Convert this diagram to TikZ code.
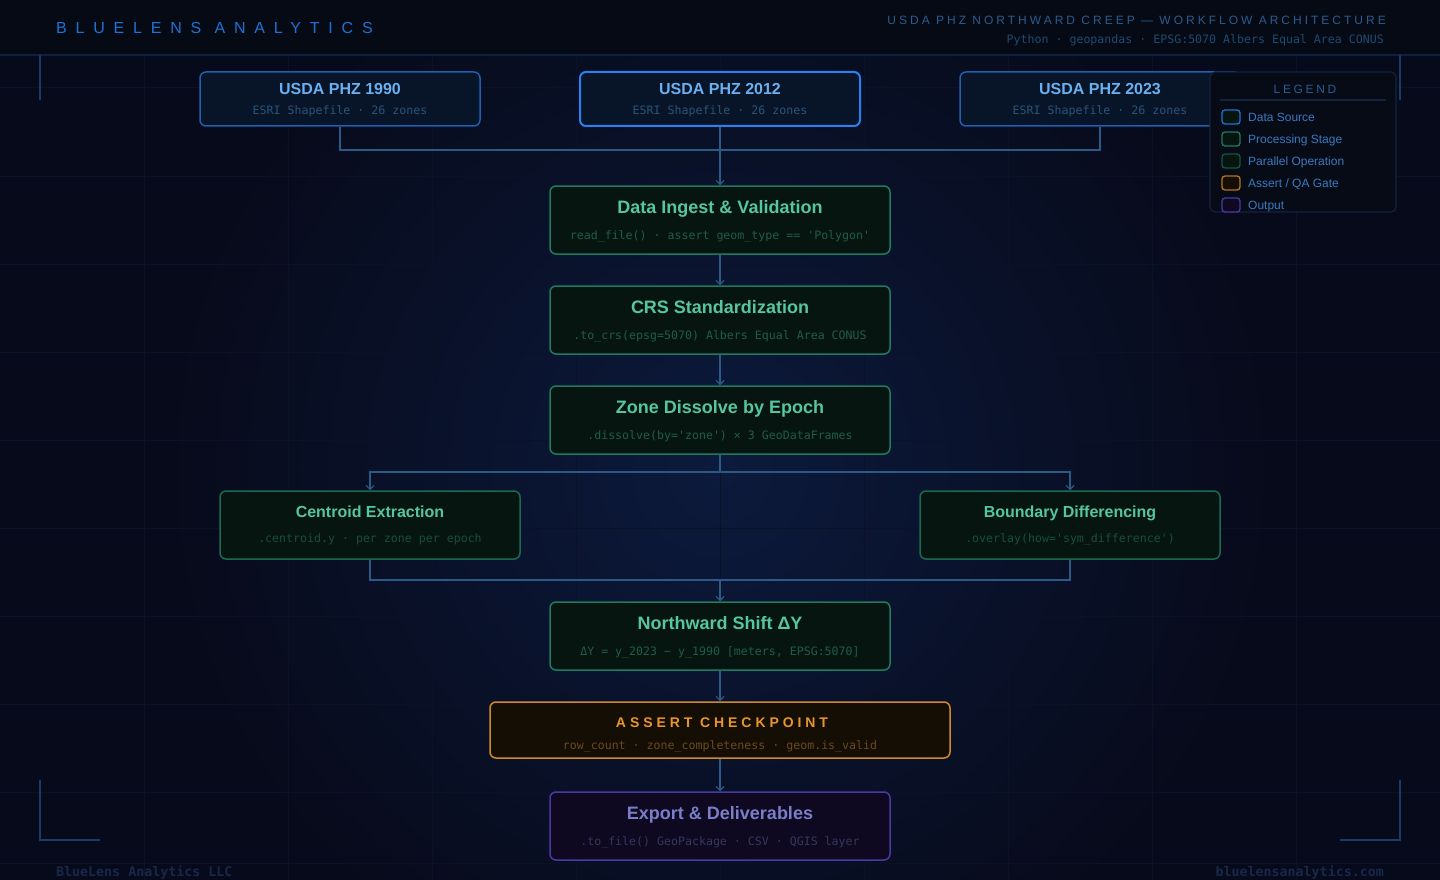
\documentclass[tikz,border=0pt]{standalone}
\usepackage{fontspec}
\setmainfont{Liberation Sans}
\newfontfamily\monof{DejaVu Sans Mono}
\newfontfamily\spacedA[LetterSpace=55]{Liberation Sans}
\newfontfamily\spacedB[LetterSpace=25]{Liberation Sans}
\newfontfamily\spacedC[LetterSpace=28]{Liberation Sans}
\newfontfamily\spacedD[LetterSpace=22]{Liberation Sans}
\usetikzlibrary{arrows.meta}
\newcommand\sq{\textquotesingle}
\definecolor{bgc}{HTML}{070A1A}
\definecolor{glow}{HTML}{0C1A3C}
\definecolor{gridc}{HTML}{0B1228}
\definecolor{headc}{HTML}{050A14}
\definecolor{headline}{HTML}{0F2242}
\definecolor{brandc}{HTML}{1F72D4}
\definecolor{hdrc}{HTML}{2A5C8E}
\definecolor{hdrsub}{HTML}{1F4A72}
\definecolor{cornerc}{HTML}{1C3A6A}
\definecolor{footc}{HTML}{18284A}
\definecolor{srcfill}{HTML}{081428}
\definecolor{srcdraw}{HTML}{1F5FB0}
\definecolor{srcdrawB}{HTML}{2A80F0}
\definecolor{srctitle}{HTML}{6AB0F0}
\definecolor{srcsub}{HTML}{2A5578}
\definecolor{procfill}{HTML}{061510}
\definecolor{procdraw}{HTML}{1F7A60}
\definecolor{pardraw}{HTML}{1A6A52}
\definecolor{proctitle}{HTML}{56C6A0}
\definecolor{procsub}{HTML}{205C48}
\definecolor{parsub}{HTML}{1B4C3C}
\definecolor{asfill}{HTML}{150E04}
\definecolor{asdraw}{HTML}{D08A2A}
\definecolor{astitle}{HTML}{E8962A}
\definecolor{assub}{HTML}{6A4A1E}
\definecolor{outfill}{HTML}{0E0820}
\definecolor{outdraw}{HTML}{4A3AA0}
\definecolor{outtitle}{HTML}{7A7EC8}
\definecolor{outsub}{HTML}{35385C}
\definecolor{conn}{HTML}{2A5A85}
\definecolor{legfill}{HTML}{070B16}
\definecolor{legdraw}{HTML}{13233F}
\definecolor{legtext}{HTML}{3A7AC0}
\definecolor{legtitle}{HTML}{2A5C8E}
\begin{document}
\begin{tikzpicture}[x=1pt,y=-1pt,
  box/.style={rectangle, rounded corners=6pt, line width=1.5pt, inner sep=0pt},
  srcbox/.style={box, fill=srcfill, draw=srcdraw, minimum width=280pt, minimum height=54pt},
  procbox/.style={box, fill=procfill, draw=procdraw, minimum width=340pt, minimum height=68pt},
  parbox/.style={box, fill=procfill, draw=pardraw, minimum width=300pt, minimum height=68pt},
  asbox/.style={box, fill=asfill, draw=asdraw, minimum width=460pt, minimum height=56pt},
  outbox/.style={box, fill=outfill, draw=outdraw, minimum width=340pt, minimum height=68pt},
  srctitle/.style={text=srctitle, font=\fontsize{16}{18}\selectfont\bfseries, inner sep=0pt, anchor=base},
  srcsub/.style={text=srcsub, font=\monof\fontsize{11.6}{13}\selectfont, inner sep=0pt, anchor=base},
  ptitle/.style={text=proctitle, font=\fontsize{18}{20}\selectfont\bfseries, inner sep=0pt, anchor=base},
  partitle/.style={text=proctitle, font=\fontsize{16}{18}\selectfont\bfseries, inner sep=0pt, anchor=base},
  psub/.style={text=procsub, font=\monof\fontsize{11.6}{13}\selectfont, inner sep=0pt, anchor=base},
  parsub/.style={text=parsub, font=\monof\fontsize{11.6}{13}\selectfont, inner sep=0pt, anchor=base},
  conline/.style={draw=conn, line width=1.5pt},
  arr/.style={conline, -{Straight Barb[length=4pt, width=8pt, line width=1.2pt]}},
  legsq/.style={rectangle, rounded corners=3pt, line width=1.3pt, minimum width=18pt, minimum height=14pt, inner sep=0pt},
  legtxt/.style={text=legtext, font=\fontsize{12}{14}\selectfont, anchor=base west, inner sep=0pt},
  corner/.style={draw=cornerc, line width=2pt}
]
\useasboundingbox (0,0) rectangle (1440,880);
% background
\fill[bgc] (0,0) rectangle (1440,880);
\shade[inner color=glow, outer color=bgc] (720,470) circle (560);
\foreach \x in {144,288,...,1296} \draw[gridc, line width=1pt] (\x,55) -- (\x,880);
\foreach \y in {88,176,...,792} \draw[gridc, line width=1pt] (0,\y) -- (1440,\y);
\draw[gridc, line width=1pt] (0,863) -- (1440,863);
% header
\fill[headc] (0,0) rectangle (1440,55);
\draw[headline, line width=1.5pt] (0,55) -- (1440,55);
\node[anchor=base west, text=brandc, font=\spacedA\fontsize{16}{18}\selectfont, inner sep=0pt] (brand) at (56,34) {BLUELENS ANALYTICS};
\node[anchor=base east, text=hdrc, font=\spacedB\fontsize{12}{14}\selectfont, inner sep=0pt] (hdr) at (1386,24.5) {USDA PHZ NORTHWARD CREEP — WORKFLOW ARCHITECTURE};
\node[anchor=base east, text=hdrsub, font=\monof\fontsize{11.6}{13}\selectfont, inner sep=0pt] (hdrs) at (1384,44) {Python · geopandas · EPSG:5070 Albers Equal Area CONUS};
% corners
\draw[corner] (40,55) -- (40,100);
\draw[corner] (1400,55) -- (1400,100);
\draw[corner] (40,780) -- (40,840) -- (100,840);
\draw[corner] (1400,780) -- (1400,840) -- (1340,840);
% footer
\node[anchor=base west, text=footc, font=\monof\fontsize{13.3}{14}\selectfont\bfseries, inner sep=0pt] (foot1) at (56,876.5) {BlueLens Analytics LLC};
\node[anchor=base east, text=footc, font=\monof\fontsize{13.3}{14}\selectfont\bfseries, inner sep=0pt] (foot2) at (1384,876.5) {bluelensanalytics.com};
% coordinates
\coordinate (join) at (720,150);
\coordinate (split) at (720,472);
\coordinate (merge) at (720,580);
% sources
\node[srcbox] (s1990) at (340,99) {};
\node[srctitle] (s1990t) at (340,94.8) {USDA PHZ 1990};
\node[srcsub] (s1990s) at (340,115) {ESRI Shapefile · 26 zones};
\node[srcbox, draw=srcdrawB, line width=2pt] (s2012) at (720,99) {};
\node[srctitle] (s2012t) at (720,94.8) {USDA PHZ 2012};
\node[srcsub] (s2012s) at (720,115) {ESRI Shapefile · 26 zones};
\node[srcbox] (s2023) at (1100,99) {};
\node[srctitle] (s2023t) at (1100,94.8) {USDA PHZ 2023};
\node[srcsub] (s2023s) at (1100,115) {ESRI Shapefile · 26 zones};
% processing
\node[procbox] (ingest) at (720,220) {};
\node[ptitle] (ingestt) at (720,213.5) {Data Ingest \& Validation};
\node[psub] (ingests) at (720,239) {read\_file() · assert geom\_type == \sq Polygon\sq};
\node[procbox] (crs) at (720,320) {};
\node[ptitle] (crst) at (720,313.5) {CRS Standardization};
\node[psub] (crss) at (720,339) {.to\_crs(epsg=5070) Albers Equal Area CONUS};
\node[procbox] (diss) at (720,420) {};
\node[ptitle] (disst) at (720,413.5) {Zone Dissolve by Epoch};
\node[psub] (disss) at (720,439) {.dissolve(by=\sq zone\sq) × 3 GeoDataFrames};
\node[parbox] (cent) at (370,525) {};
\node[partitle] (centt) at (370,517.8) {Centroid Extraction};
\node[parsub] (cents) at (370,542) {.centroid.y · per zone per epoch};
\node[parbox] (bound) at (1070,525) {};
\node[partitle] (boundt) at (1070,517.8) {Boundary Differencing};
\node[parsub] (bounds) at (1070,542) {.overlay(how=\sq sym\_difference\sq)};
\node[procbox] (north) at (720,636) {};
\node[ptitle] (northt) at (720,629.5) {Northward Shift ΔY};
\node[psub] (norths) at (720,655) {ΔY = y\_2023 − y\_1990 [meters, EPSG:5070]};
\node[asbox] (assert) at (720,730) {};
\node[text=astitle, font=\spacedC\fontsize{14}{16}\selectfont\bfseries, inner sep=0pt, anchor=base] (assertt) at (722,727) {ASSERT CHECKPOINT};
\node[text=assub, font=\monof\fontsize{11.6}{13}\selectfont, inner sep=0pt, anchor=base] (asserts) at (720,749) {row\_count · zone\_completeness · geom.is\_valid};
\node[outbox] (export) at (720,826) {};
\node[ptitle, text=outtitle] (exportt) at (720,819.5) {Export \& Deliverables};
\node[psub, text=outsub] (exports) at (720,845) {.to\_file() GeoPackage · CSV · QGIS layer};
% connectors
\draw[conline] (s1990.south) |- (join);
\draw[conline] (s2023.south) |- (join);
\draw[arr] (s2012.south) -- (ingest.north);
\draw[arr] (ingest.south) -- (crs.north);
\draw[arr] (crs.south) -- (diss.north);
\draw[conline] (diss.south) -- (split);
\draw[arr] (split) -| (cent.north);
\draw[arr] (split) -| (bound.north);
\draw[conline] (cent.south) |- (merge);
\draw[conline] (bound.south) |- (merge);
\draw[arr] (merge) -- (north.north);
\draw[arr] (north.south) -- (assert.north);
\draw[arr] (assert.south) -- (export.north);
% legend
\node[rectangle, rounded corners=5pt, fill=legfill, draw=legdraw, line width=1.2pt, minimum width=186pt, minimum height=140pt, inner sep=0pt] (legend) at (1303,142) {};
\node[text=legtitle, font=\spacedD\fontsize{12}{14}\selectfont, inner sep=0pt, anchor=base] (legt) at (1305,93.5) {LEGEND};
\draw[legdraw, line width=1.5pt] (1220,100) -- (1386,100);
\node[legsq, fill=procfill, draw=brandc] (lq1) at (1231,117) {};
\node[legtxt] (lt1) at (1248,121.5) {Data Source};
\node[legsq, fill=procfill, draw=procdraw] (lq2) at (1231,139) {};
\node[legtxt] (lt2) at (1248,143.5) {Processing Stage};
\node[legsq, fill=procfill, draw=pardraw!80!black] (lq3) at (1231,161) {};
\node[legtxt] (lt3) at (1248,165.5) {Parallel Operation};
\node[legsq, fill=asfill, draw=asdraw!85!black] (lq4) at (1231,183) {};
\node[legtxt] (lt4) at (1248,187.5) {Assert / QA Gate};
\node[legsq, fill=outfill, draw=outdraw] (lq5) at (1231,205) {};
\node[legtxt] (lt5) at (1248,209.5) {Output};
\end{tikzpicture}
\end{document}
